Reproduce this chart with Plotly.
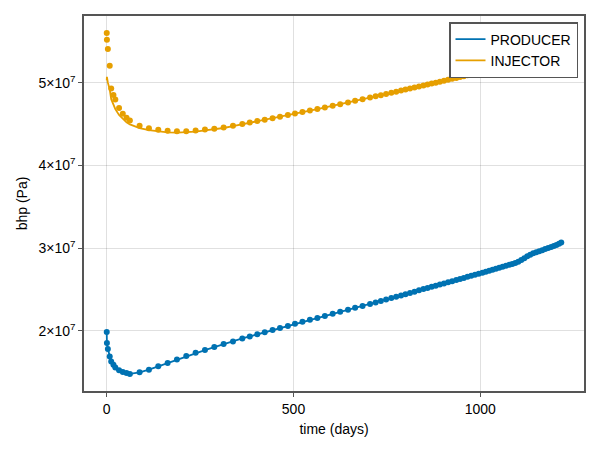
import numpy as np
import plotly.graph_objects as go

# time (days) of report steps
time_days = [0, 0.5, 3, 8, 12, 18, 23, 33, 43, 53, 62, 88, 113, 138, 163, 188, 213, 238, 263, 288,
             313, 338, 363, 383, 403, 423, 444, 464, 485, 504, 524, 544, 564, 584, 605, 625, 646,
             665, 685, 705, 720, 734, 748, 762, 775, 788, 800, 812, 824, 836, 848, 859, 870, 881,
             892, 903, 914, 925, 936, 946, 956, 966, 976, 986, 996, 1006, 1015, 1024, 1033, 1042,
             1051, 1060, 1069, 1078, 1086, 1094, 1102, 1110, 1118, 1126, 1134, 1142, 1150, 1158,
             1166, 1174, 1182, 1190, 1197, 1204, 1211, 1217]

# producer bhp (1e7 Pa), markers and line
producer_bhp = [1.984, 1.852, 1.78, 1.69, 1.63, 1.59, 1.555, 1.522, 1.502, 1.49, 1.478, 1.498, 1.53,
                1.57, 1.611, 1.654, 1.695, 1.735, 1.767, 1.803, 1.84, 1.871, 1.907, 1.932, 1.957,
                1.982, 2.008, 2.033, 2.059, 2.084, 2.108, 2.132, 2.156, 2.180, 2.205, 2.229, 2.254,
                2.277, 2.301, 2.325, 2.343, 2.360, 2.378, 2.395, 2.412, 2.428, 2.443, 2.458, 2.473,
                2.489, 2.504, 2.518, 2.532, 2.546, 2.560, 2.573, 2.587, 2.600, 2.614, 2.627, 2.639,
                2.652, 2.665, 2.678, 2.690, 2.703, 2.714, 2.726, 2.737, 2.749, 2.761, 2.773, 2.785,
                2.797, 2.808, 2.820, 2.835, 2.855, 2.877, 2.900, 2.920, 2.936, 2.950, 2.962, 2.975,
                2.988, 3.000, 3.013, 3.025, 3.038, 3.052, 3.066]

# injector bhp (1e7 Pa), markers
injector_bhp = [5.60, 5.52, 5.406, 5.205, 4.93, 4.85, 4.795, 4.695, 4.623, 4.575, 4.542, 4.478, 4.45,
                4.43, 4.418, 4.413, 4.413, 4.422, 4.434, 4.442, 4.458, 4.478, 4.50, 4.518, 4.536,
                4.553, 4.571, 4.589, 4.608, 4.627, 4.645, 4.663, 4.681, 4.700, 4.720, 4.740, 4.761,
                4.781, 4.800, 4.820, 4.835, 4.849, 4.863, 4.878, 4.891, 4.904, 4.917, 4.929, 4.941,
                4.954, 4.966, 4.978, 4.989, 5.000, 5.012, 5.023, 5.034, 5.046, 5.057, 5.068, 5.079,
                5.090, 5.101, 5.112, 5.123, 5.134, 5.144, 5.154, 5.164, 5.174, 5.184, 5.194, 5.204,
                5.214, 5.223, 5.232, 5.242, 5.253, 5.265, 5.277, 5.288, 5.297, 5.306, 5.314, 5.322,
                5.330, 5.338, 5.346, 5.353, 5.360, 5.367, 5.373]

# injector bhp (1e7 Pa), line
injector_line = [5.03, 5.07, 5.00, 4.92, 4.80, 4.73, 4.68, 4.61, 4.56, 4.52, 4.495, 4.45, 4.425,
                 4.408, 4.398, 4.395, 4.398, 4.408, 4.422, 4.434, 4.452, 4.474, 4.498, 4.518, 4.536,
                 4.553, 4.571, 4.589, 4.608, 4.627, 4.645, 4.663, 4.681, 4.700, 4.720, 4.740, 4.761,
                 4.781, 4.800, 4.820, 4.835, 4.849, 4.863, 4.878, 4.891, 4.904, 4.917, 4.929, 4.941,
                 4.954, 4.966, 4.978, 4.989, 5.000, 5.012, 5.023, 5.034, 5.046, 5.057, 5.068, 5.079,
                 5.090, 5.101, 5.112, 5.123, 5.134, 5.144, 5.154, 5.164, 5.174, 5.184, 5.194, 5.204,
                 5.214, 5.223, 5.232, 5.242, 5.253, 5.265, 5.277, 5.288, 5.297, 5.306, 5.314, 5.322,
                 5.330, 5.338, 5.346, 5.353, 5.360, 5.367, 5.373]

series_names = ["PRODUCER", "INJECTOR"]
ytick_vals = [2e7, 3e7, 4e7, 5e7]
ytick_text = ["2×10<sup>7</sup>", "3×10<sup>7</sup>", "4×10<sup>7</sup>", "5×10<sup>7</sup>"]
xtick_vals = [0, 500, 1000]
xtick_text = ["0", "500", "1000"]

BLUE = "#0072B2"
ORANGE = "#E69F00"
SPINE = "rgb(85,85,85)"
FONT = "Liberation Sans, Arial, sans-serif"

t = np.array(time_days, dtype=float)
prod = np.array(producer_bhp) * 1e7
inj = np.array(injector_bhp) * 1e7
injl = np.array(injector_line) * 1e7

fig = go.Figure()
fig.add_trace(go.Scatter(x=t, y=prod, mode="lines", name=series_names[0],
                         line=dict(color=BLUE, width=1.8)))
fig.add_trace(go.Scatter(x=t, y=injl, mode="lines", name=series_names[1],
                         line=dict(color=ORANGE, width=1.8)))
fig.add_trace(go.Scatter(x=t, y=prod, mode="markers", showlegend=False,
                         marker=dict(color=BLUE, size=6, line=dict(width=0))))
fig.add_trace(go.Scatter(x=t, y=inj, mode="markers", showlegend=False,
                         marker=dict(color=ORANGE, size=6, line=dict(width=0))))

xmin, xmax = t.min(), t.max()
xpad = 0.05 * (xmax - xmin)
allv = np.concatenate([prod, inj, injl])
ymin, ymax = allv.min(), allv.max()
ypad = 0.05 * (ymax - ymin)

axis_common = dict(showline=True, mirror=True, linecolor=SPINE, linewidth=1.5,
                   showgrid=True, gridcolor="rgba(0,0,0,0.12)", gridwidth=1,
                   ticks="outside", ticklen=4, tickcolor=SPINE, tickwidth=1.2,
                   zeroline=False, tickfont=dict(size=14, color="black", family=FONT))

fig.update_xaxes(range=[xmin - xpad, xmax + xpad], tickvals=xtick_vals, ticktext=xtick_text,
                 title=dict(text="time (days)", font=dict(size=14, color="black", family=FONT),
                            standoff=9),
                 automargin=False, **axis_common)
fig.update_yaxes(range=[ymin - ypad, ymax + ypad], tickvals=ytick_vals, ticktext=ytick_text,
                 title=dict(text="bhp (Pa)", font=dict(size=14, color="black", family=FONT),
                            standoff=8),
                 automargin=False, **axis_common)

# page body has an 8px margin, so the figure is 8px smaller and margins shifted
fig.update_layout(
    width=592, height=442,
    margin=dict(l=76, r=16, t=8, b=59),
    plot_bgcolor="white", paper_bgcolor="white",
    font=dict(family=FONT, size=14, color="black"),
    legend=dict(x=0.988, y=0.984, xanchor="right", yanchor="top",
                bgcolor="white", bordercolor=SPINE, borderwidth=1.5,
                itemwidth=30, font=dict(size=14, family=FONT, color="black")),
)

fig.write_html("out.html")
